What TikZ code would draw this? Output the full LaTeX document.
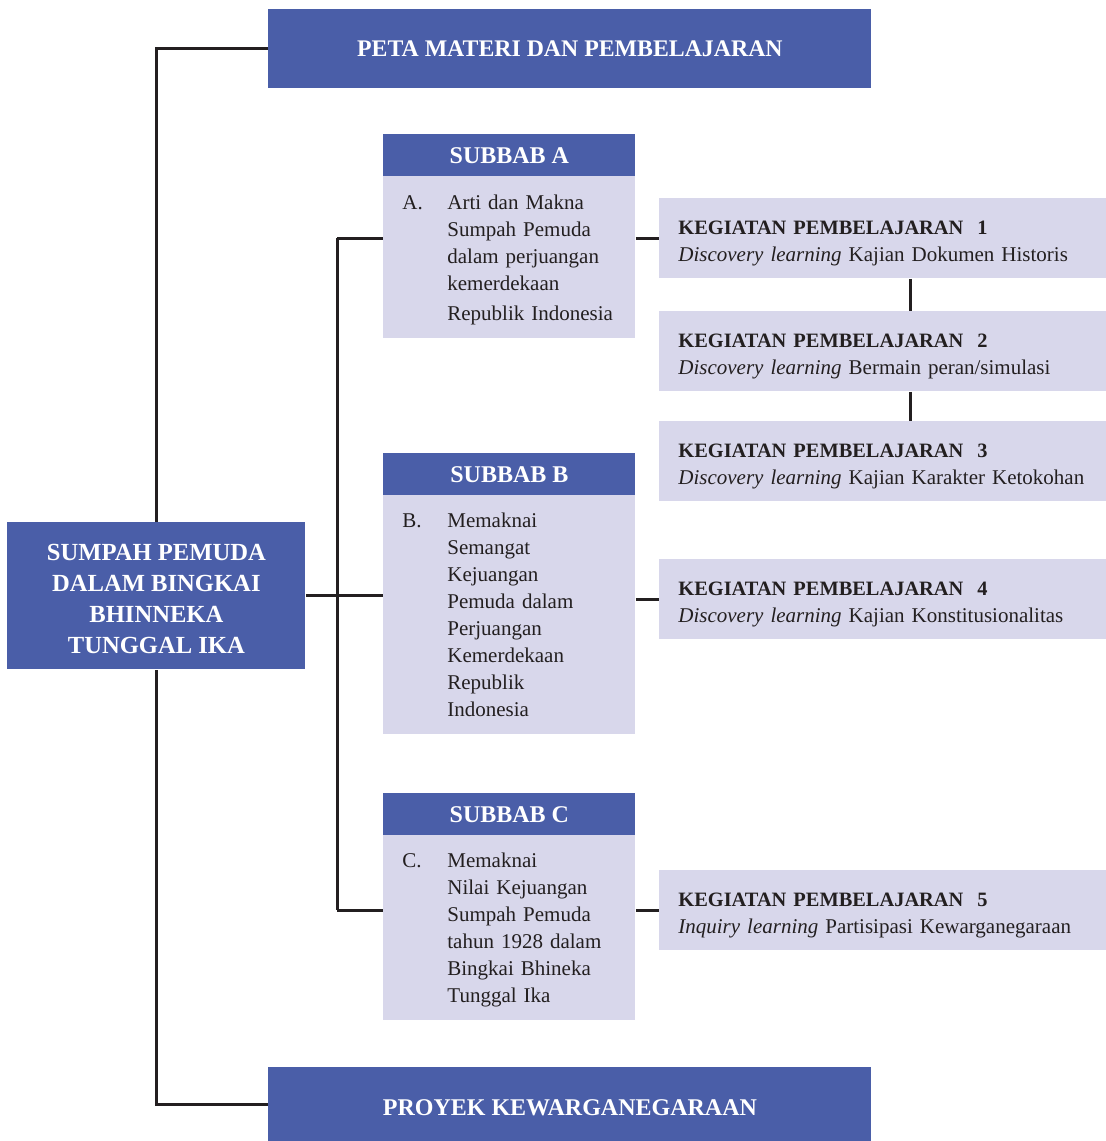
\documentclass[tikz,border=0pt]{standalone}
\usepackage{fontspec}
\setmainfont{Liberation Serif}
\definecolor{petablue}{HTML}{4A5EA8}
\definecolor{petalight}{HTML}{D8D7EB}
\definecolor{petaline}{HTML}{231F20}
\newcommand{\topstrut}{\rule{0pt}{11.5pt}}
\newcommand{\kegtitle}[1]{\topstrut{\bfseries\fontsize{10.2}{13.5}\selectfont KEGIATAN PEMBELAJARAN\ \ #1}}
\begin{document}
\begin{tikzpicture}[x=0.5pt,y=-0.5pt,
  darkbox/.style={fill=petablue,text=white,inner sep=0pt,anchor=north west,align=center},
  subhead/.style={darkbox,minimum width=126pt,minimum height=21pt,font=\bfseries\fontsize{12}{13}\selectfont},
  subbody/.style={fill=petalight,text=petaline,anchor=north west,inner xsep=9.5pt,inner ysep=0pt,
    text width=107pt,align=left,font=\fontsize{10.5}{13.5}\selectfont},
  kegbox/.style={fill=petalight,text=petaline,anchor=north west,inner xsep=9.5pt,inner ysep=0pt,
    text width=204.5pt,minimum height=40pt,align=left,font=\fontsize{10.5}{13.5}\selectfont},
  link/.style={draw=petaline,line width=1.5pt}]
\useasboundingbox (0,0) rectangle (1106,1141);
% top and bottom bars
\node[darkbox,minimum width=301.5pt,minimum height=39.5pt,font=\bfseries\fontsize{11.9}{13}\selectfont]
  (peta) at (268,9) {PETA MATERI DAN PEMBELAJARAN};
\node[darkbox,minimum width=301.5pt,minimum height=37pt,font=\bfseries\fontsize{12}{13}\selectfont]
  (proyek) at (268,1067) {\rule{0pt}{11pt}PROYEK KEWARGANEGARAAN};
\node[darkbox,minimum width=149pt,minimum height=73.5pt,font=\bfseries\fontsize{12.3}{15.5}\selectfont]
  (main) at (7,522) {\rule{0pt}{11pt}SUMPAH PEMUDA\\DALAM BINGKAI\\BHINNEKA\\TUNGGAL IKA};
% subbab
\node[subhead] (headA) at (383,134) {SUBBAB A};
\node[subbody,minimum height=81pt] (bodyA) at (383,176) {\begin{tabular}{@{}p{22.5pt}@{}l@{}}
  \topstrut A. & Arti dan Makna\\ & Sumpah Pemuda\\ & dalam perjuangan\\ & kemerdekaan\\[1.5pt] & Republik Indonesia\end{tabular}};
\node[subhead] (headB) at (383,453) {SUBBAB B};
\node[subbody,minimum height=119.5pt] (bodyB) at (383,495) {\begin{tabular}{@{}p{22.5pt}@{}l@{}}
  \topstrut B. & Memaknai\\ & Semangat\\ & Kejuangan\\ & Pemuda dalam\\ & Perjuangan\\ & Kemerdekaan\\ & Republik\\ & Indonesia\end{tabular}};
\node[subhead] (headC) at (383,793) {SUBBAB C};
\node[subbody,minimum height=92.5pt] (bodyC) at (383,835) {\begin{tabular}{@{}p{22.5pt}@{}l@{}}
  \topstrut C. & Memaknai\\ & Nilai Kejuangan\\ & Sumpah Pemuda\\ & tahun 1928 dalam\\ & Bingkai Bhineka\\ & Tunggal Ika\end{tabular}};
% kegiatan
\node[kegbox] (k1) at (659,198) {\kegtitle{1}\\\textit{Discovery learning} Kajian Dokumen Historis};
\node[kegbox] (k2) at (659,311) {\kegtitle{2}\\\textit{Discovery learning} Bermain peran/simulasi};
\node[kegbox] (k3) at (659,421) {\kegtitle{3}\\\textit{Discovery learning} Kajian Karakter Ketokohan};
\node[kegbox] (k4) at (659,559) {\kegtitle{4}\\\textit{Discovery learning} Kajian Konstitusionalitas};
\node[kegbox] (k5) at (659,870) {\kegtitle{5}\\\textit{Inquiry learning} Partisipasi Kewarganegaraan};
% connectors
\coordinate (bus) at (337,0);
\coordinate (kbus) at (910,0);
\draw[link] (peta.west) -| (main.north);
\draw[link] (proyek.west) -| (main.south);
\draw[link] (main.east) -- (main.east -| bodyB.west);
\draw[link] (bus |- k1.west) -- (bus |- k5.west);
\draw[link] (bus |- k1.west) -- (bodyA.west |- k1.west);
\draw[link] (bus |- k5.west) -- (bodyC.west |- k5.west);
\draw[link] (bodyA.east |- k1.west) -- (k1.west);
\draw[link] (bodyB.east |- k4.west) -- (k4.west);
\draw[link] (bodyC.east |- k5.west) -- (k5.west);
\draw[link] (kbus |- k1.south) -- (kbus |- k2.north);
\draw[link] (kbus |- k2.south) -- (kbus |- k3.north);
\end{tikzpicture}
\end{document}
